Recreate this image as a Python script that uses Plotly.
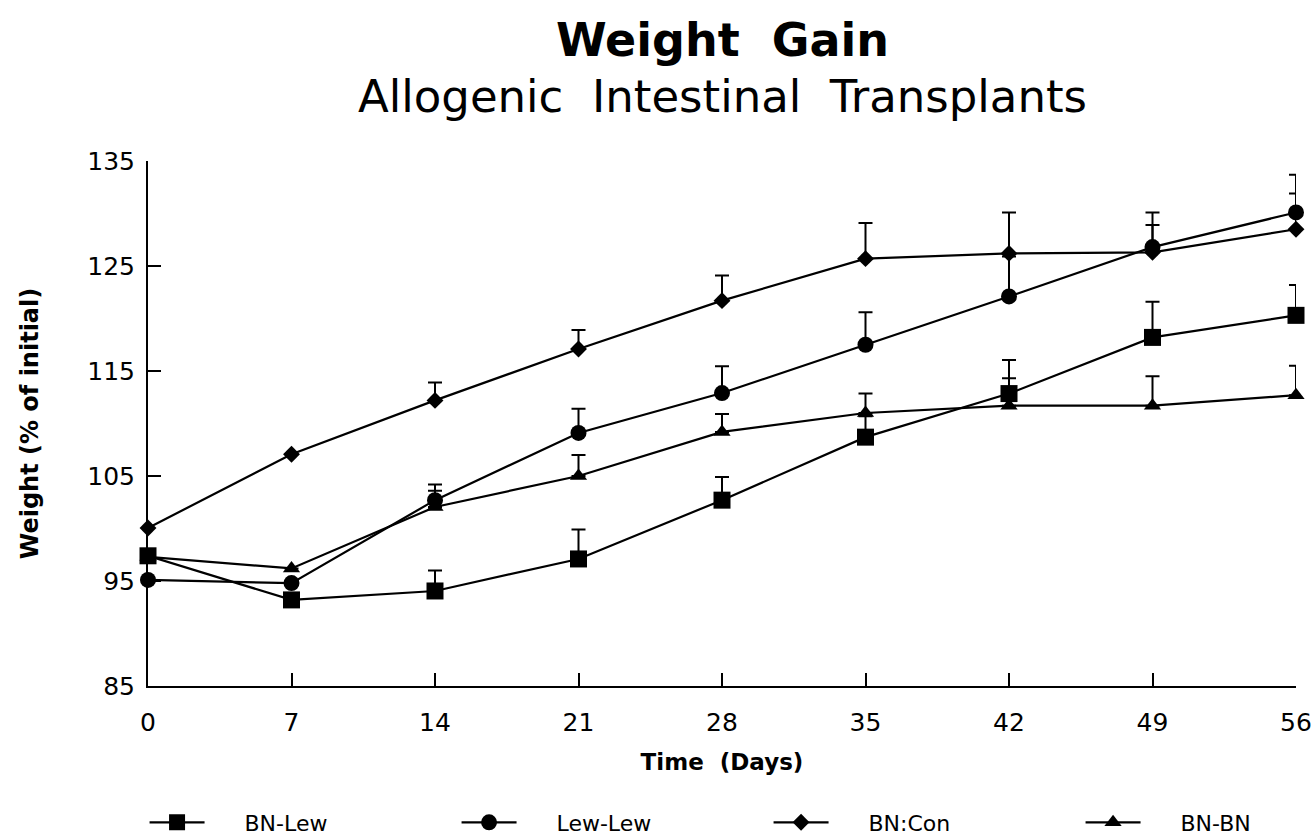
import plotly.graph_objects as go

days = [0, 7, 14, 21, 28, 35, 42, 49, 56]
x_ticks = [0, 7, 14, 21, 28, 35, 42, 49, 56]
y_ticks = [85, 95, 105, 115, 125, 135]

bn_lew = [97.4, 93.2, 94.05, 97.1, 102.7, 108.7, 112.85, 118.2, 120.3]
bn_lew_err = [None, None, 1.95, 2.8, 2.2, 2.0, 3.2, 3.4, 2.9]

lew_lew = [95.1, 94.8, 102.7, 109.1, 112.9, 117.5, 122.1, 126.8, 130.1]
lew_lew_err = [None, None, 1.5, 2.3, 2.55, 3.1, 3.8, 3.3, 3.6]

bn_con = [100.05, 107.07, 112.2, 117.1, 121.7, 125.7, 126.2, 126.3, 128.5]
bn_con_err = [None, None, 1.7, 1.8, 2.4, 3.4, 3.9, 2.6, 3.4]

bn_bn = [97.3, 96.2, 102.05, 105.0, 109.2, 111.0, 111.7, 111.7, 112.7]
bn_bn_err = [None, None, 1.55, 2.0, 1.7, 1.85, 2.6, 2.8, 2.8]

series = [
    ("BN-Lew", bn_lew, bn_lew_err, "square", 17),
    ("Lew-Lew", lew_lew, lew_lew_err, "circle", 16),
    ("BN:Con", bn_con, bn_con_err, "diamond", 13),
    ("BN-BN", bn_bn, bn_bn_err, "triangle-up", 15),
]

FONT = "DejaVu Sans"
PAD = "\u00a0" * 5
fig = go.Figure()
for name, vals, err, sym, size in series:
    fig.add_trace(go.Scatter(
        x=days, y=vals, name=PAD + name, mode="lines+markers",
        line=dict(color="black", width=2.2),
        marker=dict(symbol=sym, size=size, color="black"),
        error_y=dict(type="data", symmetric=False, array=err,
                     arrayminus=[0 if e is not None else None for e in err],
                     color="black", thickness=2, width=7),
        cliponaxis=False,
    ))

fig.update_layout(
    width=1313, height=840,
    margin=dict(l=148, r=17, t=161, b=154, autoexpand=False),
    plot_bgcolor="white", paper_bgcolor="white",
    font=dict(family=FONT, color="black", size=22),
    showlegend=True,
    legend=dict(orientation="h", x=-0.003, xanchor="left", y=-0.26, yanchor="middle",
                font=dict(family=FONT, size=22), itemwidth=55,
                entrywidth=242, entrywidthmode="pixels"),
    annotations=[
        dict(text="<b>Weight  Gain</b>", x=0.5, xref="paper", y=1, yref="paper",
             yanchor="middle", yshift=121, showarrow=False,
             font=dict(family=FONT, size=46)),
        dict(text="Allogenic  Intestinal  Transplants", x=0.5, xref="paper", y=1, yref="paper",
             yanchor="middle", yshift=65, showarrow=False,
             font=dict(family=FONT, size=45)),
    ],
)

fig.update_xaxes(
    range=[0, 56], tickvals=x_ticks, ticktext=[str(t) for t in x_ticks],
    showgrid=False, zeroline=False, showline=True, linecolor="black", linewidth=2,
    ticks="inside", ticklen=13, tickwidth=2, tickcolor="black", automargin=False,
    tickfont=dict(family=FONT, size=25), ticklabelstandoff=13,
    title=dict(text="<b>Time  (Days)</b>", font=dict(family=FONT, size=23), standoff=18),
)
fig.update_yaxes(
    range=[85, 135], tickvals=y_ticks, ticktext=[str(t) for t in y_ticks],
    showgrid=False, zeroline=False, showline=True, linecolor="black", linewidth=2,
    ticks="inside", ticklen=13, tickwidth=2, tickcolor="black", automargin=False,
    tickfont=dict(family=FONT, size=25), ticklabelstandoff=6,
    title=dict(text="<b>Weight (% of initial)</b>", font=dict(family=FONT, size=24), standoff=42),
)

fig.write_html(
    "out.html",
    config={"displayModeBar": False},
    post_script="document.body.style.margin='0';document.body.style.overflow='hidden';",
)
